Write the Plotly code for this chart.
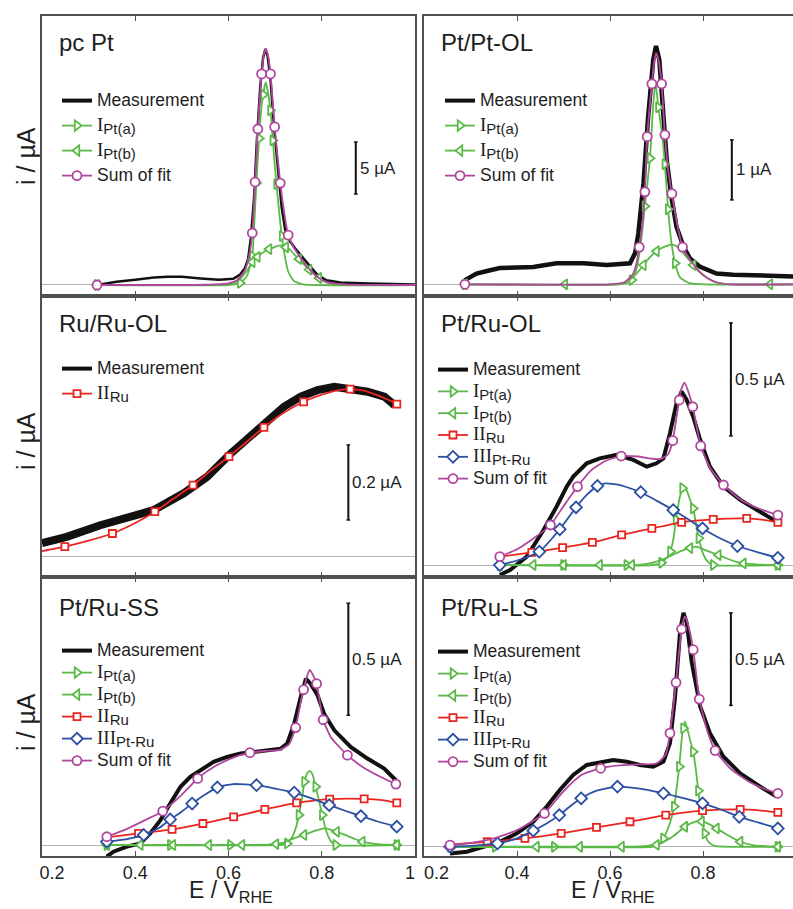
import plotly.graph_objects as go

# ======================= DATA (E in V_RHE, i in µA) =======================
# ---- Panel 1: pc Pt
p1_meas_E = [0.318,0.33,0.36,0.40,0.44,0.47,0.50,0.54,0.58,0.61,0.625,0.635,0.642,0.648,0.655,0.661,0.668,0.674,0.679,0.684,0.690,0.698,0.706,0.714,0.722,0.732,0.745,0.76,0.775,0.79,0.81,0.84,0.90,0.95,1.0]
p1_meas_i = [0.0,0.1,0.3,0.5,0.72,0.8,0.78,0.62,0.5,0.6,1.0,1.6,2.5,4.5,8.5,14.0,19.0,21.8,22.7,22.0,19.8,15.0,11.0,7.5,5.2,4.2,3.4,2.6,1.8,1.0,0.45,0.25,0.15,0.1,0.05]
p1_a_E = [0.318,0.60,0.625,0.640,0.651,0.657,0.663,0.671,0.680,0.690,0.699,0.711,0.72,0.728,0.74,0.76,1.0]
p1_a_i = [0,0,0.2,0.9,2.8,7.4,12.25,17.25,19.5,16.8,11.6,6.0,3.0,1.3,0.4,0.05,0]
p1_a_mE = [0.318,0.625,0.651,0.660,0.666,0.675,0.690,0.695,0.703,0.715]
p1_a_mi = [0,0.2,2.8,9.8,14.1,18.3,16.8,13.9,9.7,4.7]
p1_b_E = [0.318,0.58,0.60,0.62,0.64,0.651,0.663,0.680,0.699,0.711,0.728,0.74,0.755,0.77,0.785,0.80,0.82,0.85,1.0]
p1_b_i = [0,0,0.1,0.4,1.4,2.2,2.75,3.3,3.65,3.8,3.55,3.0,2.3,1.6,1.0,0.45,0.1,0,0]
p1_b_mE = [0.318,0.651,0.662,0.687,0.723,0.751,0.773,0.794]
p1_b_mi = [0,2.2,2.7,3.45,3.63,2.5,1.48,0.67]
p1_s_E = [0.318,0.55,0.60,0.62,0.635,0.645,0.651,0.657,0.663,0.671,0.676,0.680,0.685,0.690,0.699,0.711,0.72,0.728,0.74,0.755,0.77,0.79,0.81,0.84,0.9,1.0]
p1_s_i = [0,0.02,0.15,0.5,1.4,3.0,5.0,9.9,15.0,20.3,22.2,22.7,22.0,20.3,15.2,9.8,6.8,4.8,3.6,2.6,1.7,0.8,0.3,0.08,0.01,0]
p1_s_mE = [0.318,0.651,0.657,0.663,0.671,0.690,0.699,0.711,0.728]
p1_s_mi = [0,5.0,9.9,15.0,20.3,20.3,15.2,9.8,4.8]

# ---- Panel 2: Pt/Pt-OL
p2_meas_E = [0.288,0.30,0.313,0.34,0.363,0.40,0.435,0.485,0.543,0.593,0.643,0.654,0.661,0.672,0.682,0.693,0.699,0.706,0.715,0.722,0.733,0.743,0.758,0.772,0.794,0.829,0.865,0.90,0.937,0.994]
p2_meas_i = [0.07,0.12,0.18,0.23,0.27,0.28,0.29,0.35,0.35,0.32,0.35,0.52,0.85,1.68,2.79,3.74,3.97,3.74,2.9,2.07,1.41,0.96,0.63,0.43,0.29,0.18,0.16,0.15,0.13,0.13]
p2_a_E = [0.288,0.62,0.645,0.655,0.665,0.675,0.686,0.693,0.698,0.704,0.712,0.718,0.725,0.732,0.74,0.75,0.77,0.994]
p2_a_i = [0,0,0.05,0.2,0.6,1.3,2.1,3.0,3.35,2.95,2.5,2.0,1.25,0.7,0.35,0.12,0.02,0]
p2_a_mE = [0.288,0.647,0.675,0.686,0.704,0.718,0.725,0.740]
p2_a_mi = [0,0.07,1.3,2.1,2.95,2.0,1.25,0.35]
p2_b_E = [0.288,0.60,0.63,0.65,0.665,0.68,0.695,0.71,0.725,0.735,0.745,0.76,0.775,0.79,0.81,0.83,0.86,0.994]
p2_b_i = [0,0,0.03,0.12,0.25,0.4,0.52,0.6,0.65,0.66,0.62,0.5,0.36,0.22,0.1,0.03,0,0]
p2_b_mE = [0.288,0.503,0.672,0.700,0.779,0.944]
p2_b_mi = [0,0,0.32,0.55,0.32,0]
p2_s_E = [0.288,0.60,0.63,0.648,0.657,0.663,0.670,0.675,0.680,0.690,0.695,0.699,0.704,0.711,0.718,0.725,0.733,0.745,0.756,0.775,0.79,0.81,0.83,0.86,0.994]
p2_s_i = [0,0,0.03,0.15,0.35,0.62,1.05,1.54,2.46,3.34,3.7,3.85,3.75,3.34,2.49,1.9,1.51,0.98,0.62,0.38,0.23,0.1,0.03,0,0]
p2_s_mE = [0.288,0.663,0.675,0.680,0.690,0.711,0.718,0.733,0.756]
p2_s_mi = [0,0.62,1.54,2.46,3.34,3.34,2.49,1.51,0.62]

# ---- Panel 3: Ru/Ru-OL
p3_meas_E = [0.2,0.253,0.325,0.396,0.439,0.504,0.554,0.601,0.647,0.683,0.719,0.755,0.791,0.827,0.862,0.898,0.934,0.956]
p3_meas_i = [0.036,0.053,0.084,0.111,0.124,0.169,0.213,0.271,0.32,0.36,0.40,0.427,0.444,0.453,0.449,0.44,0.427,0.404]
p3_ru_E = [0.2,0.249,0.30,0.351,0.40,0.442,0.48,0.524,0.56,0.601,0.64,0.676,0.72,0.761,0.80,0.84,0.861,0.89,0.92,0.945,0.961]
p3_ru_i = [0.015,0.027,0.043,0.062,0.09,0.12,0.153,0.191,0.228,0.267,0.307,0.345,0.385,0.413,0.432,0.445,0.447,0.443,0.43,0.417,0.407]
p3_ru_mE = [0.249,0.351,0.442,0.524,0.601,0.676,0.761,0.861,0.961]
p3_ru_mi = [0.027,0.062,0.12,0.191,0.267,0.345,0.413,0.447,0.407]

# ---- Panel 4: Pt/Ru-OL
p4_meas_E = [0.363,0.385,0.421,0.457,0.485,0.507,0.521,0.550,0.578,0.614,0.650,0.679,0.700,0.715,0.729,0.743,0.754,0.765,0.779,0.794,0.815,0.844,0.880,0.923,0.958]
p4_meas_i = [-0.044,-0.022,0.037,0.155,0.258,0.347,0.391,0.45,0.472,0.487,0.465,0.435,0.45,0.472,0.583,0.715,0.767,0.73,0.656,0.553,0.435,0.347,0.288,0.236,0.192]
p4_a_E = [0.363,0.69,0.71,0.725,0.735,0.742,0.75,0.758,0.765,0.772,0.779,0.786,0.791,0.80,0.81,0.822,0.961]
p4_a_i = [0,0,0.01,0.04,0.1,0.2,0.3,0.345,0.33,0.29,0.25,0.17,0.118,0.05,0.015,0,0]
p4_a_mE = [0.363,0.50,0.636,0.711,0.730,0.742,0.756,0.779,0.791,0.822,0.961]
p4_a_mi = [0,0,0,0.01,0.06,0.2,0.34,0.25,0.118,0,0]
p4_b_E = [0.363,0.65,0.68,0.70,0.72,0.74,0.76,0.775,0.786,0.80,0.815,0.833,0.85,0.87,0.887,0.92,0.961]
p4_b_i = [0,0,0.005,0.015,0.03,0.05,0.068,0.078,0.081,0.07,0.058,0.044,0.03,0.015,0.007,0.002,0]
p4_b_mE = [0.363,0.435,0.50,0.578,0.647,0.772,0.833,0.887,0.961]
p4_b_mi = [0,0,0,0,0,0.075,0.044,0.007,0]
p4_ru_E = [0.363,0.432,0.498,0.562,0.625,0.69,0.754,0.822,0.894,0.93,0.961]
p4_ru_i = [0.037,0.056,0.077,0.10,0.133,0.162,0.189,0.202,0.206,0.2,0.189]
p4_ru_mE = [0.432,0.498,0.562,0.625,0.69,0.754,0.822,0.894,0.961]
p4_ru_mi = [0.056,0.077,0.10,0.133,0.162,0.189,0.202,0.206,0.189]
p4_pr_E = [0.363,0.40,0.448,0.492,0.527,0.55,0.573,0.59,0.62,0.666,0.70,0.736,0.77,0.799,0.84,0.874,0.92,0.961]
p4_pr_i = [0.0,0.02,0.059,0.158,0.255,0.31,0.35,0.361,0.355,0.322,0.285,0.243,0.2,0.162,0.115,0.084,0.055,0.032]
p4_pr_mE = [0.363,0.448,0.492,0.527,0.573,0.666,0.736,0.799,0.874,0.961]
p4_pr_mi = [0.0,0.059,0.158,0.255,0.35,0.322,0.243,0.162,0.084,0.032]
p4_s_E = [0.363,0.40,0.43,0.472,0.50,0.53,0.56,0.59,0.624,0.66,0.69,0.71,0.725,0.735,0.745,0.752,0.76,0.768,0.778,0.795,0.815,0.844,0.88,0.92,0.961]
p4_s_i = [0.037,0.07,0.11,0.177,0.26,0.347,0.42,0.46,0.482,0.48,0.47,0.47,0.49,0.55,0.68,0.77,0.807,0.77,0.70,0.527,0.43,0.354,0.29,0.25,0.221]
p4_s_mE = [0.363,0.472,0.53,0.624,0.735,0.749,0.778,0.795,0.844,0.961]
p4_s_mi = [0.037,0.177,0.347,0.482,0.55,0.73,0.70,0.527,0.354,0.221]

# ---- Panel 5: Pt/Ru-SS
p5_meas_E = [0.339,0.353,0.382,0.411,0.432,0.454,0.475,0.497,0.518,0.54,0.568,0.597,0.626,0.654,0.683,0.712,0.726,0.741,0.755,0.766,0.776,0.791,0.805,0.827,0.862,0.898,0.934,0.959]
p5_meas_i = [-0.052,-0.03,-0.007,0.007,0.052,0.111,0.185,0.26,0.304,0.334,0.371,0.393,0.408,0.415,0.423,0.43,0.453,0.542,0.66,0.742,0.72,0.668,0.586,0.512,0.438,0.386,0.341,0.289]
p5_a_E = [0.339,0.70,0.72,0.735,0.745,0.751,0.757,0.763,0.769,0.774,0.78,0.787,0.795,0.801,0.81,0.82,0.83,0.961]
p5_a_i = [0,0,0.005,0.03,0.08,0.134,0.2,0.282,0.32,0.331,0.315,0.26,0.19,0.134,0.06,0.015,0.0,0]
p5_a_mE = [0.339,0.475,0.604,0.726,0.751,0.763,0.787,0.801,0.830,0.961]
p5_a_mi = [0,0,0,0.007,0.134,0.282,0.26,0.134,0,0]
p5_b_E = [0.339,0.66,0.69,0.72,0.74,0.762,0.785,0.805,0.82,0.832,0.85,0.87,0.887,0.92,0.961]
p5_b_i = [0,0,0.003,0.012,0.03,0.045,0.063,0.074,0.068,0.059,0.045,0.028,0.015,0.004,0]
p5_b_mE = [0.339,0.411,0.481,0.558,0.629,0.702,0.762,0.832,0.887,0.961]
p5_b_mi = [0,0,0,0,0,0.004,0.045,0.059,0.015,0]
p5_ru_E = [0.339,0.407,0.479,0.545,0.611,0.678,0.746,0.817,0.891,0.93,0.961]
p5_ru_i = [0.034,0.052,0.07,0.096,0.126,0.159,0.188,0.205,0.206,0.2,0.188]
p5_ru_mE = [0.407,0.479,0.545,0.611,0.678,0.746,0.817,0.891,0.961]
p5_ru_mi = [0.052,0.07,0.096,0.126,0.159,0.188,0.205,0.206,0.188]
p5_pr_E = [0.339,0.38,0.418,0.45,0.475,0.50,0.522,0.55,0.576,0.61,0.66,0.70,0.741,0.78,0.816,0.85,0.884,0.92,0.961]
p5_pr_i = [0.015,0.025,0.045,0.075,0.114,0.15,0.185,0.225,0.257,0.272,0.267,0.252,0.234,0.207,0.178,0.153,0.129,0.105,0.082]
p5_pr_mE = [0.339,0.418,0.475,0.522,0.576,0.66,0.741,0.816,0.884,0.961]
p5_pr_mi = [0.015,0.045,0.114,0.185,0.257,0.267,0.234,0.178,0.129,0.082]
p5_s_E = [0.339,0.38,0.42,0.459,0.50,0.534,0.57,0.61,0.646,0.68,0.71,0.73,0.744,0.755,0.761,0.768,0.774,0.781,0.789,0.803,0.82,0.855,0.89,0.93,0.959]
p5_s_i = [0.037,0.07,0.11,0.151,0.225,0.297,0.35,0.39,0.412,0.42,0.425,0.45,0.524,0.64,0.693,0.75,0.782,0.76,0.72,0.559,0.48,0.401,0.345,0.3,0.272]
p5_s_mE = [0.339,0.459,0.534,0.646,0.744,0.761,0.789,0.803,0.855,0.959]
p5_s_mi = [0.037,0.151,0.297,0.412,0.524,0.693,0.72,0.559,0.401,0.272]

# ---- Panel 6: Pt/Ru-LS
p6_meas_E = [0.256,0.292,0.328,0.363,0.399,0.435,0.464,0.492,0.521,0.55,0.578,0.607,0.636,0.664,0.693,0.715,0.729,0.74,0.751,0.758,0.765,0.776,0.794,0.815,0.844,0.88,0.923,0.958]
p6_meas_i = [-0.036,-0.027,0.0,0.027,0.072,0.135,0.217,0.307,0.388,0.442,0.455,0.469,0.46,0.442,0.433,0.46,0.56,0.812,1.173,1.264,1.209,0.993,0.758,0.614,0.487,0.397,0.325,0.271]
p6_a_E = [0.256,0.69,0.705,0.715,0.728,0.738,0.745,0.749,0.755,0.761,0.768,0.774,0.779,0.785,0.79,0.797,0.804,0.812,0.825,0.961]
p6_a_i = [0,0,0.01,0.045,0.12,0.217,0.35,0.433,0.6,0.677,0.62,0.56,0.514,0.41,0.303,0.17,0.072,0.025,0.005,0]
p6_a_mE = [0.256,0.353,0.48,0.715,0.738,0.749,0.758,0.779,0.79,0.804,0.961]
p6_a_mi = [0,0,0,0.045,0.217,0.433,0.64,0.514,0.303,0.072,0]
p6_b_E = [0.256,0.64,0.68,0.71,0.735,0.761,0.775,0.79,0.805,0.82,0.829,0.85,0.88,0.91,0.961]
p6_b_i = [0,0,0.005,0.02,0.055,0.108,0.128,0.139,0.132,0.113,0.099,0.068,0.027,0.008,0]
p6_b_mE = [0.256,0.442,0.535,0.625,0.70,0.761,0.797,0.829,0.88,0.961]
p6_b_mi = [0,0,0,0,0.01,0.108,0.137,0.099,0.027,0]
p6_ru_E = [0.256,0.336,0.417,0.495,0.571,0.643,0.72,0.799,0.88,0.92,0.961]
p6_ru_i = [0.012,0.027,0.045,0.072,0.105,0.135,0.171,0.195,0.202,0.197,0.186]
p6_ru_mE = [0.336,0.417,0.495,0.571,0.643,0.72,0.799,0.88,0.961]
p6_ru_mi = [0.027,0.045,0.072,0.105,0.135,0.171,0.195,0.202,0.186]
p6_pr_E = [0.256,0.30,0.358,0.40,0.435,0.46,0.491,0.515,0.538,0.57,0.616,0.66,0.715,0.76,0.799,0.84,0.878,0.92,0.961]
p6_pr_i = [0.0,0.005,0.018,0.045,0.087,0.12,0.171,0.22,0.262,0.302,0.325,0.315,0.289,0.262,0.235,0.2,0.162,0.13,0.099]
p6_pr_mE = [0.256,0.358,0.435,0.491,0.538,0.616,0.715,0.799,0.878,0.961]
p6_pr_mi = [0.0,0.018,0.087,0.171,0.262,0.325,0.289,0.235,0.162,0.099]
p6_s_E = [0.256,0.30,0.35,0.40,0.459,0.50,0.54,0.58,0.62,0.66,0.70,0.72,0.729,0.742,0.754,0.761,0.768,0.779,0.792,0.81,0.826,0.86,0.90,0.93,0.961]
p6_s_i = [0.009,0.02,0.045,0.09,0.18,0.3,0.39,0.424,0.44,0.445,0.45,0.5,0.614,0.888,1.177,1.245,1.2,1.065,0.798,0.62,0.52,0.42,0.35,0.315,0.289]
p6_s_mE = [0.256,0.459,0.58,0.729,0.742,0.754,0.779,0.792,0.826,0.961]
p6_s_mi = [0.009,0.18,0.424,0.614,0.888,1.177,1.065,0.798,0.52,0.289]

# ---- panel titles, scale bars, ticks
panel_titles = ["pc Pt", "Pt/Pt-OL", "Ru/Ru-OL", "Pt/Ru-OL", "Pt/Ru-SS", "Pt/Ru-LS"]
scale_E = [0.873, 0.862, 0.857, 0.86, 0.857, 0.86]
scale_lo = [8.75, 1.406, 0.098, 0.571, 0.579, 0.764]
scale_len = [5, 1, 0.2, 0.5, 0.5, 0.5]
scale_lbl = ["5 µA", "1 µA", "0.2 µA", "0.5 µA", "0.5 µA", "0.5 µA"]
tick_vals = [0.2, 0.4, 0.6, 0.8, 1.0]
tick_text = ["0.2", "0.4", "0.6", "0.8", "1"]

# ======================= STYLE / LAYOUT =======================
W, H = 793, 909
FONT = "Liberation Sans"
TXT = "#1e1e1e"
AX = "#505050"
COL = {"meas": "#111111", "a": "#5ab947", "b": "#5ab947", "ru": "#e8251f",
       "pr": "#2b4fa3", "s": "#b0469d"}
SYM = {"a": "triangle-right", "b": "triangle-left", "ru": "square",
       "pr": "diamond", "s": "circle"}
MSZ = {"a": 9, "b": 9, "ru": 7, "pr": 9, "s": 9}


def big(t):
    return "<span style=\"font-size:17.5px\">%s</span>" % t


def roman(num, sub):
    return ("<span style=\"font-family:'Liberation Serif';font-size:19px\">%s</span>"
            "<sub><span style=\"font-size:15px\">%s</span></sub>" % (num, sub))


NAME = {"meas": big("Measurement"),
        "a": roman("I", "Pt(a)"),
        "b": roman("I", "Pt(b)"),
        "ru": roman("II", "Ru"),
        "pr": roman("III", "Pt-Ru"),
        "s": big("Sum of fit")}

XDOM = [(42 / W, 415 / W), (424 / W, 1.0)]
XRNG = [(0.2, 1.0), (0.2, 0.2 + 369 / 465)]
ROWPX = [(16, 296), (296, 577), (577, 856)]
YRNG = [(-1.06, 25.87), (-0.195, 4.47), (-0.054, 0.695),
        (-0.053, 1.19), (-0.049, 1.196), (-0.05, 1.458)]
MEASW = [2.5, 4.5, 8, 4, 4, 4]
# legend: (line start px, first item centre px, extra gap)
LEG = [(64, 101, 3.8), (447, 101, 3.8), (64, 369, 3.8), (440, 370, 0.6), (64, 651, 0.8), (440, 652, 0.8)]

panels = [
    [("meas", p1_meas_E, p1_meas_i),
     ("a", p1_a_E, p1_a_i, p1_a_mE, p1_a_mi), ("b", p1_b_E, p1_b_i, p1_b_mE, p1_b_mi),
     ("s", p1_s_E, p1_s_i, p1_s_mE, p1_s_mi)],
    [("meas", p2_meas_E, p2_meas_i),
     ("a", p2_a_E, p2_a_i, p2_a_mE, p2_a_mi), ("b", p2_b_E, p2_b_i, p2_b_mE, p2_b_mi),
     ("s", p2_s_E, p2_s_i, p2_s_mE, p2_s_mi)],
    [("meas", p3_meas_E, p3_meas_i),
     ("ru", p3_ru_E, p3_ru_i, p3_ru_mE, p3_ru_mi)],
    [("meas", p4_meas_E, p4_meas_i),
     ("a", p4_a_E, p4_a_i, p4_a_mE, p4_a_mi), ("b", p4_b_E, p4_b_i, p4_b_mE, p4_b_mi),
     ("ru", p4_ru_E, p4_ru_i, p4_ru_mE, p4_ru_mi), ("pr", p4_pr_E, p4_pr_i, p4_pr_mE, p4_pr_mi),
     ("s", p4_s_E, p4_s_i, p4_s_mE, p4_s_mi)],
    [("meas", p5_meas_E, p5_meas_i),
     ("a", p5_a_E, p5_a_i, p5_a_mE, p5_a_mi), ("b", p5_b_E, p5_b_i, p5_b_mE, p5_b_mi),
     ("ru", p5_ru_E, p5_ru_i, p5_ru_mE, p5_ru_mi), ("pr", p5_pr_E, p5_pr_i, p5_pr_mE, p5_pr_mi),
     ("s", p5_s_E, p5_s_i, p5_s_mE, p5_s_mi)],
    [("meas", p6_meas_E, p6_meas_i),
     ("a", p6_a_E, p6_a_i, p6_a_mE, p6_a_mi), ("b", p6_b_E, p6_b_i, p6_b_mE, p6_b_mi),
     ("ru", p6_ru_E, p6_ru_i, p6_ru_mE, p6_ru_mi), ("pr", p6_pr_E, p6_pr_i, p6_pr_mE, p6_pr_mi),
     ("s", p6_s_E, p6_s_i, p6_s_mE, p6_s_mi)],
]

fig = go.Figure()
layout = dict(width=W, height=H, margin=dict(l=0, r=0, t=0, b=0, autoexpand=False),
              paper_bgcolor="white", plot_bgcolor="white", showlegend=True,
              font=dict(family=FONT, color=TXT))
shapes, annos = [], []


def py(px):
    return 1 - px / H


for k in range(6):
    row, col = k // 2, k % 2
    sfx = "" if k == 0 else str(k + 1)
    xa, ya, lg = "x" + sfx, "y" + sfx, "legend" + sfx
    bottom = row == 2
    if col == 0:
        ttext = ["\u00a0" * 4 + tick_text[0]] + tick_text[1:4] + [tick_text[4] + "\u00a0" * 2]
    else:
        ttext = ["\u00a0" * 5 + tick_text[0]] + tick_text[1:]
    layout["xaxis" + sfx] = dict(
        domain=XDOM[col], range=XRNG[col], anchor=ya, showgrid=False, zeroline=False,
        showline=True, linecolor=AX, linewidth=1.5, mirror="ticks",
        ticks="inside", ticklen=5, tickwidth=1.2, tickcolor=AX,
        tickvals=tick_vals, ticktext=ttext, showticklabels=bottom,
        tickfont=dict(family=FONT, size=18, color=TXT), fixedrange=True)
    y0, y1 = ROWPX[row]
    layout["yaxis" + sfx] = dict(
        domain=(py(y1), py(y0)), range=YRNG[k], anchor=xa, showgrid=False,
        zeroline=True, zerolinecolor="#b4b4b4", zerolinewidth=1,
        showline=True, linecolor=AX, linewidth=1.5, mirror=(col == 0),
        ticks="", showticklabels=False, fixedrange=True)
    lx, ly, gap = LEG[k]
    layout[lg] = dict(x=(lx - 7) / W, y=py(ly - 16), xanchor="left", yanchor="top",
                      bgcolor="rgba(0,0,0,0)", borderwidth=0, tracegroupgap=gap,
                      font=dict(family=FONT, size=14, color=TXT), itemwidth=30)

    for series in panels[k]:
        key = series[0]
        if key == "meas":
            fig.add_trace(go.Scatter(x=series[1], y=series[2], mode="lines", xaxis=xa, yaxis=ya,
                                     line=dict(color=COL[key], width=MEASW[k]),
                                     showlegend=False, hoverinfo="skip"))
            fig.add_trace(go.Scatter(x=[None], y=[None], mode="lines", xaxis=xa, yaxis=ya,
                                     line=dict(color=COL[key], width=4), name=NAME[key],
                                     legend=lg, legendgroup=f"{k}{key}"))
            continue
        _, E, I, mE, mI = series
        mk = dict(symbol=SYM[key], size=MSZ[key], color="white",
                  line=dict(color=COL[key], width=1.8))
        fig.add_trace(go.Scatter(x=E, y=I, mode="lines", xaxis=xa, yaxis=ya,
                                 line=dict(color=COL[key], width=1.8, shape="spline", smoothing=0.5),
                                 showlegend=False, hoverinfo="skip"))
        fig.add_trace(go.Scatter(x=mE, y=mI, mode="markers", xaxis=xa, yaxis=ya, marker=mk,
                                 showlegend=False, hoverinfo="skip"))
        fig.add_trace(go.Scatter(x=[None], y=[None], mode="lines+markers", xaxis=xa, yaxis=ya,
                                 line=dict(color=COL[key], width=1.8), marker=mk,
                                 name=NAME[key], legend=lg, legendgroup=f"{k}{key}"))

    # scale bar
    e, lo, ln = scale_E[k], scale_lo[k], scale_len[k]
    cap = 0.004
    shapes.append(dict(type="line", xref=xa, yref=ya, x0=e, x1=e, y0=lo, y1=lo + ln,
                       line=dict(color="#111", width=2)))
    for yy in (lo, lo + ln):
        shapes.append(dict(type="line", xref=xa, yref=ya, x0=e - cap, x1=e + cap, y0=yy, y1=yy,
                           line=dict(color="#111", width=1.5)))
    annos.append(dict(xref=xa, yref=ya, x=e, y=lo + ln / 2, text=scale_lbl[k], showarrow=False,
                      xanchor="left", yanchor="middle", xshift=2,
                      font=dict(family=FONT, size=17, color=TXT)))
    # panel title
    tx = 57 if col == 0 else 439
    ty = [42, 323, 607][row]
    annos.append(dict(xref="paper", yref="paper", x=tx / W, y=py(ty), text=panel_titles[k],
                      showarrow=False, xanchor="left", yanchor="middle",
                      font=dict(family=FONT, size=24, color=TXT)))

for ty in (156, 441, 722):
    annos.append(dict(xref="paper", yref="paper", x=26 / W, y=py(ty), text="i / µA",
                      textangle=-90, showarrow=False, xanchor="center", yanchor="middle",
                      font=dict(family=FONT, size=25, color=TXT)))
for tx in (231, 613):
    annos.append(dict(xref="paper", yref="paper", x=tx / W, y=py(891), text="E / V<sub>RHE</sub>",
                      showarrow=False, xanchor="center", yanchor="middle",
                      font=dict(family=FONT, size=23, color=TXT)))

layout["shapes"] = shapes
layout["annotations"] = annos
fig.update_layout(**layout)
fig.write_html("out.html", config={"displayModeBar": False})
